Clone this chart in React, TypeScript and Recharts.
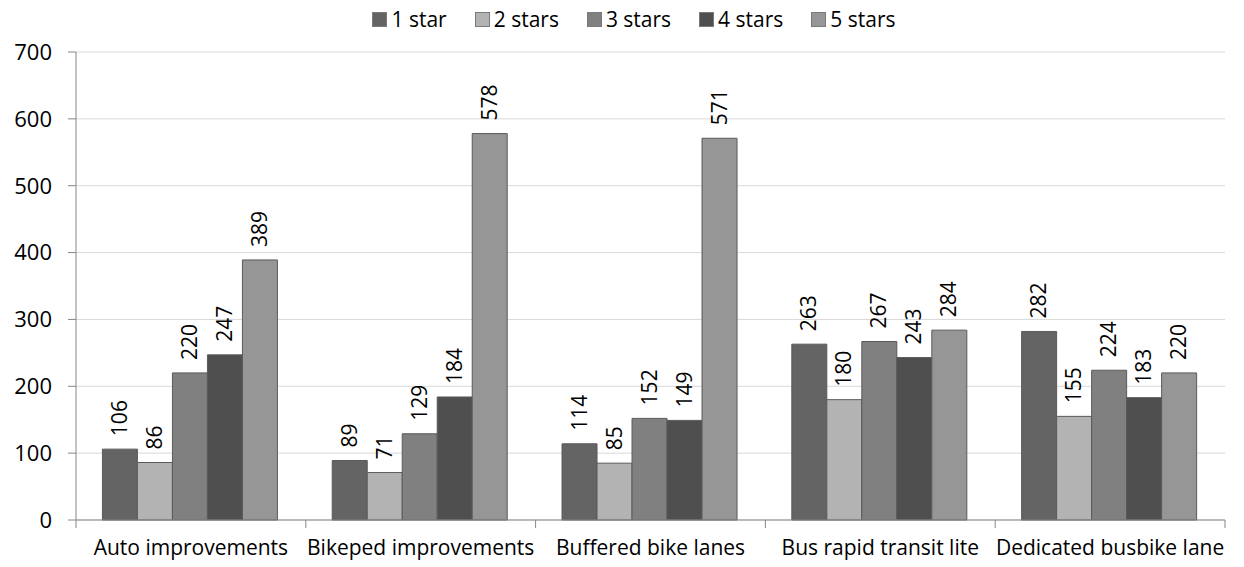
import { BarChart, Bar, XAxis, YAxis, CartesianGrid, LabelList } from 'recharts';

const categories = ['Auto improvements', 'Bikeped improvements', 'Buffered bike lanes', 'Bus rapid transit lite', 'Dedicated busbike lane'];
const oneStar = [106, 89, 114, 263, 282];
const twoStars = [86, 71, 85, 180, 155];
const threeStars = [220, 129, 152, 267, 224];
const fourStars = [247, 184, 149, 243, 183];
const fiveStars = [389, 578, 571, 284, 220];
const yTicks = [0, 100, 200, 300, 400, 500, 600, 700];

const SERIES = [
  { key: 's1', name: '1 star', color: '#646464', values: oneStar },
  { key: 's2', name: '2 stars', color: '#b3b3b3', values: twoStars },
  { key: 's3', name: '3 stars', color: '#808080', values: threeStars },
  { key: 's4', name: '4 stars', color: '#4f4f4f', values: fourStars },
  { key: 's5', name: '5 stars', color: '#969696', values: fiveStars },
];

const data = categories.map((c, i) => {
  const row: Record<string, string | number> = { name: c };
  SERIES.forEach(s => { row[s.key] = s.values[i]; });
  return row;
});

const FONT = '"Open Sans", sans-serif';

function ValueLabel(props: any) {
  const { x, y, width, value } = props;
  const cx = x + width / 2 + 7;
  const cy = y - 13;
  return (
    <text x={cx} y={cy} transform={`rotate(-90 ${cx} ${cy})`} textAnchor="start" fontSize={21} fontFamily={FONT} fill="#000">
      {value}
    </text>
  );
}

function CategoryTick(props: any) {
  const { x, y, payload, index, width, visibleTicksCount } = props;
  const step = width / (visibleTicksCount || categories.length);
  const isLast = index === categories.length - 1;
  return (
    <g>
      <line x1={x - step / 2} x2={x - step / 2} y1={y - 8} y2={y} stroke="#868686" />
      {isLast && <line x1={x + step / 2} x2={x + step / 2} y1={y - 8} y2={y} stroke="#868686" />}
      <text x={x} y={y + 27} textAnchor="middle" fontSize={21} fontFamily={FONT} fill="#000">
        {payload.value}
      </text>
    </g>
  );
}

function LegendBar() {
  return (
    <div style={{ position: 'absolute', left: 0, top: 5, width: 1244, display: 'flex', justifyContent: 'center', gap: 28, fontFamily: FONT, fontSize: 21, paddingLeft: 24, boxSizing: 'border-box' }}>
      {SERIES.map(s => (
        <div key={s.key} style={{ display: 'flex', alignItems: 'center', gap: 4 }}>
          <div style={{ width: 13, height: 13, background: s.color, border: '1px solid #7a7a7a' }} />
          <span>{s.name}</span>
        </div>
      ))}
    </div>
  );
}

export default function App() {
  return (
    <div style={{ position: 'absolute', left: 0, top: 0, width: 1244, height: 567, background: '#fff' }}>
      <BarChart width={1244} height={567} data={data} margin={{ top: 52, right: 19, bottom: 7, left: 0 }} barGap={0} barCategoryGap="11.5%">
        <CartesianGrid vertical={false} stroke="#d9d9d9" />
        <XAxis
          dataKey="name"
          height={40}
          interval={0}
          tickLine={false}
          axisLine={{ stroke: '#868686' }}
          tick={<CategoryTick />}
        />
        <YAxis
          width={76}
          domain={[0, 700]}
          ticks={yTicks}
          tickSize={8}
          tickMargin={16}
          tick={{ fontSize: 22, fontFamily: FONT, fill: '#000' }}
          axisLine={{ stroke: '#868686' }}
          tickLine={{ stroke: '#868686' }}
        />
        {SERIES.map(s => (
          <Bar key={s.key} dataKey={s.key} name={s.name} fill={s.color} stroke="#5a5a5a" strokeWidth={1} isAnimationActive={false}>
            <LabelList dataKey={s.key} content={<ValueLabel />} />
          </Bar>
        ))}
      </BarChart>
      <LegendBar />
    </div>
  );
}
